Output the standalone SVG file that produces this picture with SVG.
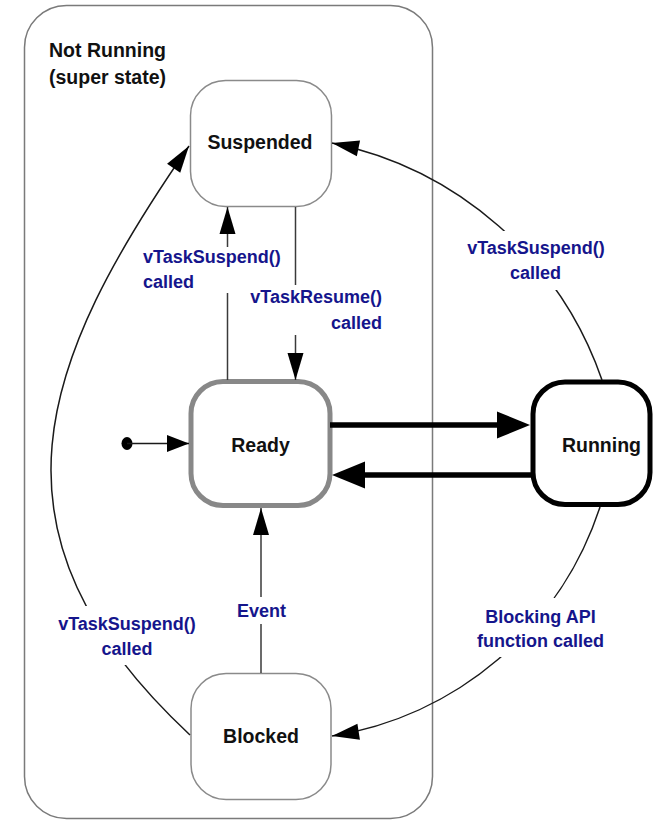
<svg xmlns="http://www.w3.org/2000/svg" width="654" height="820" viewBox="0 0 654 820">
<style>
.t{font-family:"Liberation Sans",Arial,sans-serif;font-weight:bold}
.title{font-size:19.5px;fill:#111}
.state{font-size:19.5px;fill:#111;text-anchor:middle}
.ev{font-size:18px;fill:#15158c}
.mid{text-anchor:middle}
.end{text-anchor:end}
.thin{fill:none;stroke:#1a1a1a;stroke-width:1.5}
.vline{fill:none;stroke:#3a3a3a;stroke-width:1.5}
.thick{fill:none;stroke:#000;stroke-width:5.5}
.soft{fill:#fff;stroke:#8a8a8a;stroke-width:1.5}
</style>
<defs>
<marker id="ah" markerUnits="userSpaceOnUse" markerWidth="28" markerHeight="16" refX="27" refY="8" orient="auto" overflow="visible"><path d="M0,0 L27,8 L0,16 z" fill="#000"/></marker>
<marker id="ahs" markerUnits="userSpaceOnUse" markerWidth="22" markerHeight="17" refX="22" refY="8.5" orient="auto" overflow="visible"><path d="M0,0 L22,8.5 L0,17 z" fill="#000"/></marker>
<marker id="ahb" markerUnits="userSpaceOnUse" markerWidth="34" markerHeight="27" refX="0" refY="13.5" orient="auto" overflow="visible"><path d="M0,0 L33,13.5 L0,27 z" fill="#000"/></marker>
<mask id="gaps" maskUnits="userSpaceOnUse" x="0" y="0" width="654" height="820">
<rect x="0" y="0" width="654" height="820" fill="#fff"/>
<rect x="220" y="247" width="15" height="46" fill="#000"/>
<rect x="288" y="285" width="15" height="50" fill="#000"/>
<rect x="254" y="597" width="14" height="27" fill="#000"/>
<rect x="465" y="231" width="147" height="59" fill="#000"/>
<rect x="474" y="598" width="134" height="59" fill="#000"/>
<rect x="56" y="606" width="142" height="59" fill="#000"/>
</mask>
</defs>
<rect width="654" height="820" fill="#fff"/>

<g id="superstate">
<rect x="24.5" y="5.5" width="408" height="813" rx="42" ry="42" fill="none" stroke="#7a7a7a" stroke-width="1.5"/>
<text class="t title" x="49" y="57">Not Running</text>
<text class="t title" x="49" y="84">(super state)</text>
</g>

<g id="node-suspended">
<rect class="soft" x="190.5" y="80.5" width="141" height="126" rx="35" ry="35"/>
<text class="t state" x="260" y="149">Suspended</text>
</g>

<g id="node-ready">
<rect x="191" y="381.5" width="139" height="124" rx="32" ry="32" fill="#fff" stroke="#888" stroke-width="5"/>
<text class="t state" x="260.5" y="452">Ready</text>
</g>

<g id="node-running">
<rect x="533" y="382" width="117" height="122.5" rx="32" ry="32" fill="#fff" stroke="#000" stroke-width="5"/>
<text class="t state" x="601.5" y="452">Running</text>
</g>

<g id="node-blocked">
<rect class="soft" x="191" y="673.5" width="140" height="126" rx="35" ry="35"/>
<text class="t state" x="261" y="743">Blocked</text>
</g>

<g id="node-initial">
<ellipse cx="127" cy="443.5" rx="5.5" ry="6.5" fill="#000"/>
</g>

<g id="connectors">
<g id="e-initial-ready">
<path class="thin" d="M127,443.5 L189,443.5" marker-end="url(#ahs)"/>
</g>
<g id="e-ready-suspended">
<path class="vline" d="M227.5,380 L227.5,207" marker-end="url(#ah)" mask="url(#gaps)"/>
<text class="t ev" x="143" y="263">vTaskSuspend()</text>
<text class="t ev" x="143" y="288">called</text>
</g>
<g id="e-suspended-ready">
<path class="vline" d="M295.5,207 L295.5,380" marker-end="url(#ah)" mask="url(#gaps)"/>
<text class="t ev end" x="382" y="303">vTaskResume()</text>
<text class="t ev end" x="382" y="329">called</text>
</g>
<g id="e-ready-running">
<path class="thick" d="M330,425 L497,425" marker-end="url(#ahb)"/>
</g>
<g id="e-running-ready">
<path class="thick" d="M533,475 L365,475" marker-end="url(#ahb)"/>
</g>
<g id="e-running-suspended">
<path class="thin" d="M602,380 A363,363 0 0 0 332,143" marker-end="url(#ah)" mask="url(#gaps)"/>
<text class="t ev mid" x="536" y="254">vTaskSuspend()</text>
<text class="t ev mid" x="535.5" y="279">called</text>
</g>
<g id="e-running-blocked">
<path class="thin" d="M600,507 A338,338 0 0 1 332,736" marker-end="url(#ah)" mask="url(#gaps)"/>
<text class="t ev mid" x="540.5" y="623">Blocking API</text>
<text class="t ev mid" x="540.5" y="647">function called</text>
</g>
<g id="e-blocked-ready">
<path class="vline" d="M261,673 L261,508" marker-end="url(#ah)" mask="url(#gaps)"/>
<text class="t ev mid" x="261.5" y="617">Event</text>
</g>
<g id="e-blocked-suspended">
<path class="thin" d="M190,735 C-27.8,532 40.4,361 189,146" marker-end="url(#ah)" mask="url(#gaps)"/>
<text class="t ev mid" x="127" y="630">vTaskSuspend()</text>
<text class="t ev mid" x="127" y="655">called</text>
</g>
</g>
</svg>
